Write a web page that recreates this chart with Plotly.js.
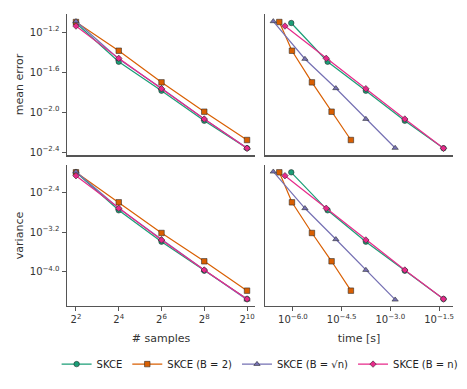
<!DOCTYPE html>
<html>
<head>
<meta charset="utf-8">
<script src="https://cdn.plot.ly/plotly-3.0.1.min.js"></script>
<style>
  html, body { margin: 0; padding: 0; background: #fff; }
  #plot { width: 467px; height: 389px; }
</style>
</head>
<body>
<div id="plot"></div>
<script>
// estimators
const names = ["SKCE", "SKCE (B = 2)", "SKCE (B = √n)", "SKCE (B = n)"];
const colors = ["#1b9e77", "#d95f02", "#7570b3", "#e7298a"];
const symbols = ["circle", "square", "triangle-up", "diamond"];

// number of samples
const samples = [4, 16, 64, 256, 1024];

// mean error per estimator
const meanError = [
    [0.0776, 0.0318, 0.01633, 0.00818, 0.00434],
    [0.0794, 0.0410, 0.0198, 0.01007, 0.00525],
    [0.0807, 0.0339, 0.01726, 0.00851, 0.00437],
    [0.0724, 0.0344, 0.0171, 0.00851, 0.00434]
];

// variance per estimator
const variance = [
    [0.00986, 0.001714, 0.000404, 0.0001062, 2.88e-5],
    [0.00986, 0.002477, 0.000603, 0.0001637, 4.23e-5],
    [0.01014, 0.00188, 0.000451, 0.0001096, 2.79e-5],
    [0.00843, 0.00188, 0.000437, 0.0001096, 2.88e-5]
];

// run time [s] per estimator
const runtime = [
    [8.87e-7, 1.17e-5, 1.762e-4, 2.79e-3, 0.0434],
    [3.80e-7, 9.33e-7, 3.85e-6, 1.55e-5, 6.10e-5],
    [2.48e-7, 2.34e-6, 2.10e-5, 1.762e-4, 1.406e-3],
    [5.68e-7, 1.06e-5, 1.762e-4, 2.79e-3, 0.0434]
];

// tick labels
const sampleTicks = ["2<sup>2</sup>", "2<sup>4</sup>", "2<sup>6</sup>", "2<sup>8</sup>", "2<sup>10</sup>"];
const timeExp = ["−6.0", "−4.5", "−3.0", "−1.5"];
const errExp = ["−1.2", "−1.6", "−2.0", "−2.4"];
const varExp = ["−2.4", "−3.2", "−4.0"];

const pow10 = s => Math.pow(10, Number(s.replace("−", "-")));
const sup10 = s => "10<sup>" + s + "</sup>";

const traces = [];
const panels = [
    {x: samples, y: meanError, xa: "x", ya: "y", legend: true},
    {x: null, y: meanError, xa: "x2", ya: "y2", legend: false},
    {x: samples, y: variance, xa: "x3", ya: "y3", legend: false},
    {x: null, y: variance, xa: "x4", ya: "y4", legend: false}
];

panels.forEach(p => {
    for (let i = 0; i < names.length; i++) {
        traces.push({
            type: "scatter",
            mode: "lines+markers",
            x: p.x ? p.x : runtime[i],
            y: p.y[i],
            xaxis: p.xa,
            yaxis: p.ya,
            name: names[i],
            showlegend: p.legend,
            line: {color: colors[i], width: 1.2},
            marker: {
                symbol: symbols[i],
                color: colors[i],
                size: i === 3 ? 5 : 5.5,
                line: {color: "rgba(40,40,40,0.8)", width: 0.7}
            }
        });
    }
});

const spine = {
    type: "log",
    showgrid: false,
    zeroline: false,
    showline: true,
    linecolor: "#555",
    linewidth: 1.5,
    ticks: "outside",
    ticklen: 4,
    tickcolor: "#555",
    tickfont: {size: 10, color: "#333"},
    automargin: false
};

const titleFont = {size: 11, color: "#333"};

const layout = {
    width: 467,
    height: 389,
    margin: {l: 0, r: 0, t: 0, b: 0},
    paper_bgcolor: "#fff",
    plot_bgcolor: "#fff",
    font: {family: "DejaVu Sans", color: "#333"},
    showlegend: true,
    legend: {
        orientation: "h",
        x: 0.557, xanchor: "center",
        y: 0.064, yanchor: "middle",
        font: {size: 10, color: "#222"},
        itemwidth: 30,
        tracegroupgap: 0
    },
    xaxis: Object.assign({}, spine, {
        domain: [0.1435, 0.546], range: [0.476, 3.122],
        anchor: "y", tickvals: samples, showticklabels: false, ticks: ""
    }),
    yaxis: Object.assign({}, spine, {
        domain: [0.6015, 0.964], range: [-2.43, -1.02], anchor: "x",
        tickvals: errExp.map(pow10), ticktext: errExp.map(sup10),
        title: {text: "mean error", font: titleFont, standoff: 4}
    }),
    xaxis2: Object.assign({}, spine, {
        domain: [0.5675, 0.970], range: [-6.86, -1.07],
        anchor: "y2", showticklabels: false, ticks: ""
    }),
    yaxis2: Object.assign({}, spine, {
        domain: [0.6015, 0.964], range: [-2.43, -1.02], anchor: "x2",
        showticklabels: false, ticks: ""
    }),
    xaxis3: Object.assign({}, spine, {
        domain: [0.1435, 0.546], range: [0.476, 3.122], anchor: "y3",
        tickvals: samples, ticktext: sampleTicks,
        title: {text: "# samples", font: titleFont, standoff: 10}
    }),
    yaxis3: Object.assign({}, spine, {
        domain: [0.2134, 0.5758], range: [-4.68, -1.86], anchor: "x3",
        tickvals: varExp.map(pow10), ticktext: varExp.map(sup10),
        title: {text: "variance", font: titleFont, standoff: 4}
    }),
    xaxis4: Object.assign({}, spine, {
        domain: [0.5675, 0.970], range: [-6.86, -1.07], anchor: "y4",
        tickvals: timeExp.map(pow10), ticktext: timeExp.map(sup10),
        title: {text: "time [s]", font: titleFont, standoff: 10}
    }),
    yaxis4: Object.assign({}, spine, {
        domain: [0.2134, 0.5758], range: [-4.68, -1.86], anchor: "x4",
        showticklabels: false, ticks: ""
    })
};

Plotly.newPlot("plot", traces, layout, {displayModeBar: false, staticPlot: true});
</script>
</body>
</html>
